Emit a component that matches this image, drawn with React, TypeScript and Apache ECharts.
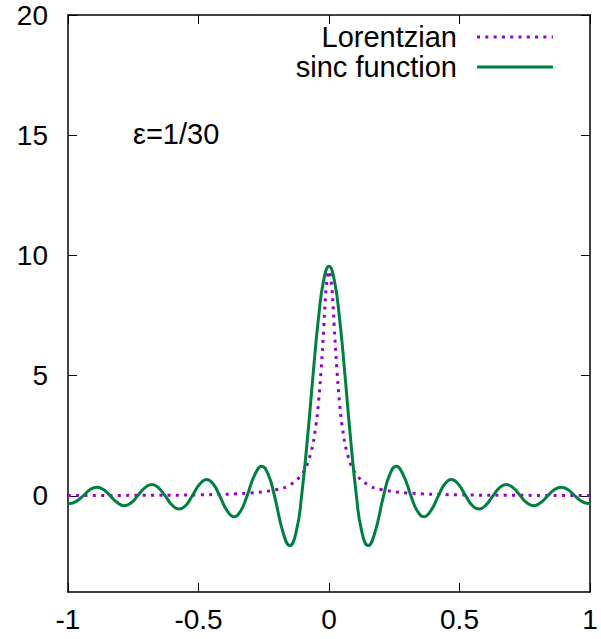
import React, { useEffect, useRef } from "react";
import * as echarts from "echarts";

// ---- data ----
const X_TICKS = [-1, -0.5, 0, 0.5, 1];
const Y_TICKS = [0, 5, 10, 15, 20];

const lorentzX = [-1, -0.75, -0.5, -0.3, -0.2, -0.15, -0.1, -0.07, -0.05, -0.04, -0.03, -0.02, -0.01, 0,
  0.01, 0.02, 0.03, 0.04, 0.05, 0.07, 0.1, 0.15, 0.2, 0.3, 0.5, 0.75, 1];
const lorentzY = [0.01, 0.02, 0.04, 0.12, 0.26, 0.45, 0.96, 1.77, 2.94, 3.91, 5.28, 7.02, 8.76, 9.35,
  8.76, 7.02, 5.28, 3.91, 2.94, 1.77, 0.96, 0.45, 0.26, 0.12, 0.04, 0.02, 0.01];

const sincX = [
  -1.0, -0.994, -0.968, -0.942, -0.915, -0.889, -0.863, -0.838, -0.81, -0.784, -0.758, -0.733,
  -0.705, -0.679, -0.653, -0.628, -0.6, -0.574, -0.548, -0.524, -0.495, -0.469, -0.443, -0.419,
  -0.39, -0.3635, -0.338, -0.314, -0.285, -0.2575, -0.233, -0.209, -0.175, -0.15, -0.125, -0.105,
  -0.08, -0.06, -0.04, -0.02, 0,
  0.02, 0.04, 0.06, 0.08, 0.105, 0.125, 0.15, 0.175, 0.209, 0.233, 0.2575, 0.285, 0.314,
  0.338, 0.3635, 0.39, 0.419, 0.443, 0.469, 0.495, 0.524, 0.548, 0.574, 0.6, 0.628,
  0.653, 0.679, 0.705, 0.733, 0.758, 0.784, 0.81, 0.838, 0.863, 0.889, 0.915, 0.942,
  0.968, 0.994, 1.0,
];
const sincY = [
  -0.31, -0.32, -0.23, 0, 0.26, 0.36, 0.25, 0, -0.29, -0.41, -0.29, 0,
  0.34, 0.47, 0.33, 0, -0.4, -0.55, -0.39, 0, 0.49, 0.68, 0.48, 0,
  -0.62, -0.87, -0.62, 0, 0.86, 1.23, 0.89, 0, -1.56, -2.07, -1.46, 0,
  2.69, 5.17, 7.42, 8.99, 9.55,
  8.99, 7.42, 5.17, 2.69, 0, -1.46, -2.07, -1.56, 0, 0.89, 1.23, 0.86, 0,
  -0.62, -0.87, -0.62, 0, 0.48, 0.68, 0.49, 0, -0.39, -0.55, -0.4, 0,
  0.33, 0.47, 0.34, 0, -0.29, -0.41, -0.29, 0, 0.25, 0.36, 0.26, 0,
  -0.23, -0.32, -0.31,
];

const SERIES_NAMES = ["Lorentzian", "sinc function"];
const ANNOTATION = "ε=1/30";

const FONT = '"Liberation Sans", Arial, Helvetica, sans-serif';
const PURPLE = "#9400d3";
const GREEN = "#008040";

export default function App() {
  const ref = useRef<HTMLDivElement>(null);

  useEffect(() => {
    if (!ref.current) return;
    const chart = echarts.init(ref.current, null, { renderer: "svg" });

    const axisLine = { show: true, onZero: false, lineStyle: { color: "#000", width: 1.5 } };
    const axisTick = { show: true, inside: true, length: 9, lineStyle: { color: "#000", width: 1 } };
    const labelStyle = { fontSize: 28, color: "#000", fontFamily: FONT };

    const xBase = { type: "value", min: -1, max: 1, interval: 0.5, splitLine: { show: false }, axisLine, axisTick };
    const yBase = { type: "value", min: -4, max: 20, splitLine: { show: false }, axisLine };

    chart.setOption({
      animation: false,
      backgroundColor: "#fff",
      grid: { left: 68, right: 11, top: 15, bottom: 47, containLabel: false },
      xAxis: [
        { ...xBase, position: "bottom", axisLabel: { ...labelStyle, margin: 13, formatter: (v: number) => String(v) } },
        { ...xBase, position: "top", axisLabel: { show: false } },
      ],
      yAxis: [
        {
          ...yBase,
          position: "left",
          axisTick: { ...axisTick, customValues: Y_TICKS },
          axisLabel: { ...labelStyle, margin: 20, customValues: Y_TICKS },
        },
        {
          ...yBase,
          position: "right",
          axisTick: { ...axisTick, customValues: Y_TICKS },
          axisLabel: { show: false, customValues: Y_TICKS },
        },
      ],
      series: [
        {
          name: SERIES_NAMES[0],
          type: "line",
          xAxisIndex: 0,
          yAxisIndex: 0,
          data: lorentzX.map((x, i) => [x, lorentzY[i]]),
          smooth: 0.4,
          showSymbol: false,
          silent: true,
          lineStyle: { color: PURPLE, width: 3, type: [3, 5.3], cap: "butt" },
        },
        {
          name: SERIES_NAMES[1],
          type: "line",
          xAxisIndex: 0,
          yAxisIndex: 0,
          data: sincX.map((x, i) => [x, sincY[i]]),
          smooth: 0.5,
          showSymbol: false,
          silent: true,
          lineStyle: { color: GREEN, width: 3 },
        },
      ],
      graphic: [
        {
          type: "text",
          x: 133,
          y: 134,
          style: { text: ANNOTATION, fontSize: 29, fontFamily: FONT, fill: "#000", align: "left", verticalAlign: "middle" },
        },
        {
          type: "text",
          x: 457,
          y: 37,
          style: { text: SERIES_NAMES[0], fontSize: 29, fontFamily: FONT, fill: "#000", align: "right", verticalAlign: "middle" },
        },
        {
          type: "line",
          shape: { x1: 477, y1: 37, x2: 553, y2: 37 },
          style: { stroke: PURPLE, lineWidth: 3, lineDash: [3, 5.3] },
        },
        {
          type: "text",
          x: 457,
          y: 67,
          style: { text: SERIES_NAMES[1], fontSize: 29, fontFamily: FONT, fill: "#000", align: "right", verticalAlign: "middle" },
        },
        {
          type: "line",
          shape: { x1: 477, y1: 67, x2: 553, y2: 67 },
          style: { stroke: GREEN, lineWidth: 3 },
        },
      ],
    });

    return () => chart.dispose();
  }, []);

  return (
    <div
      ref={ref}
      style={{ position: "absolute", left: 0, top: 0, width: 601, height: 639 }}
    />
  );
}
